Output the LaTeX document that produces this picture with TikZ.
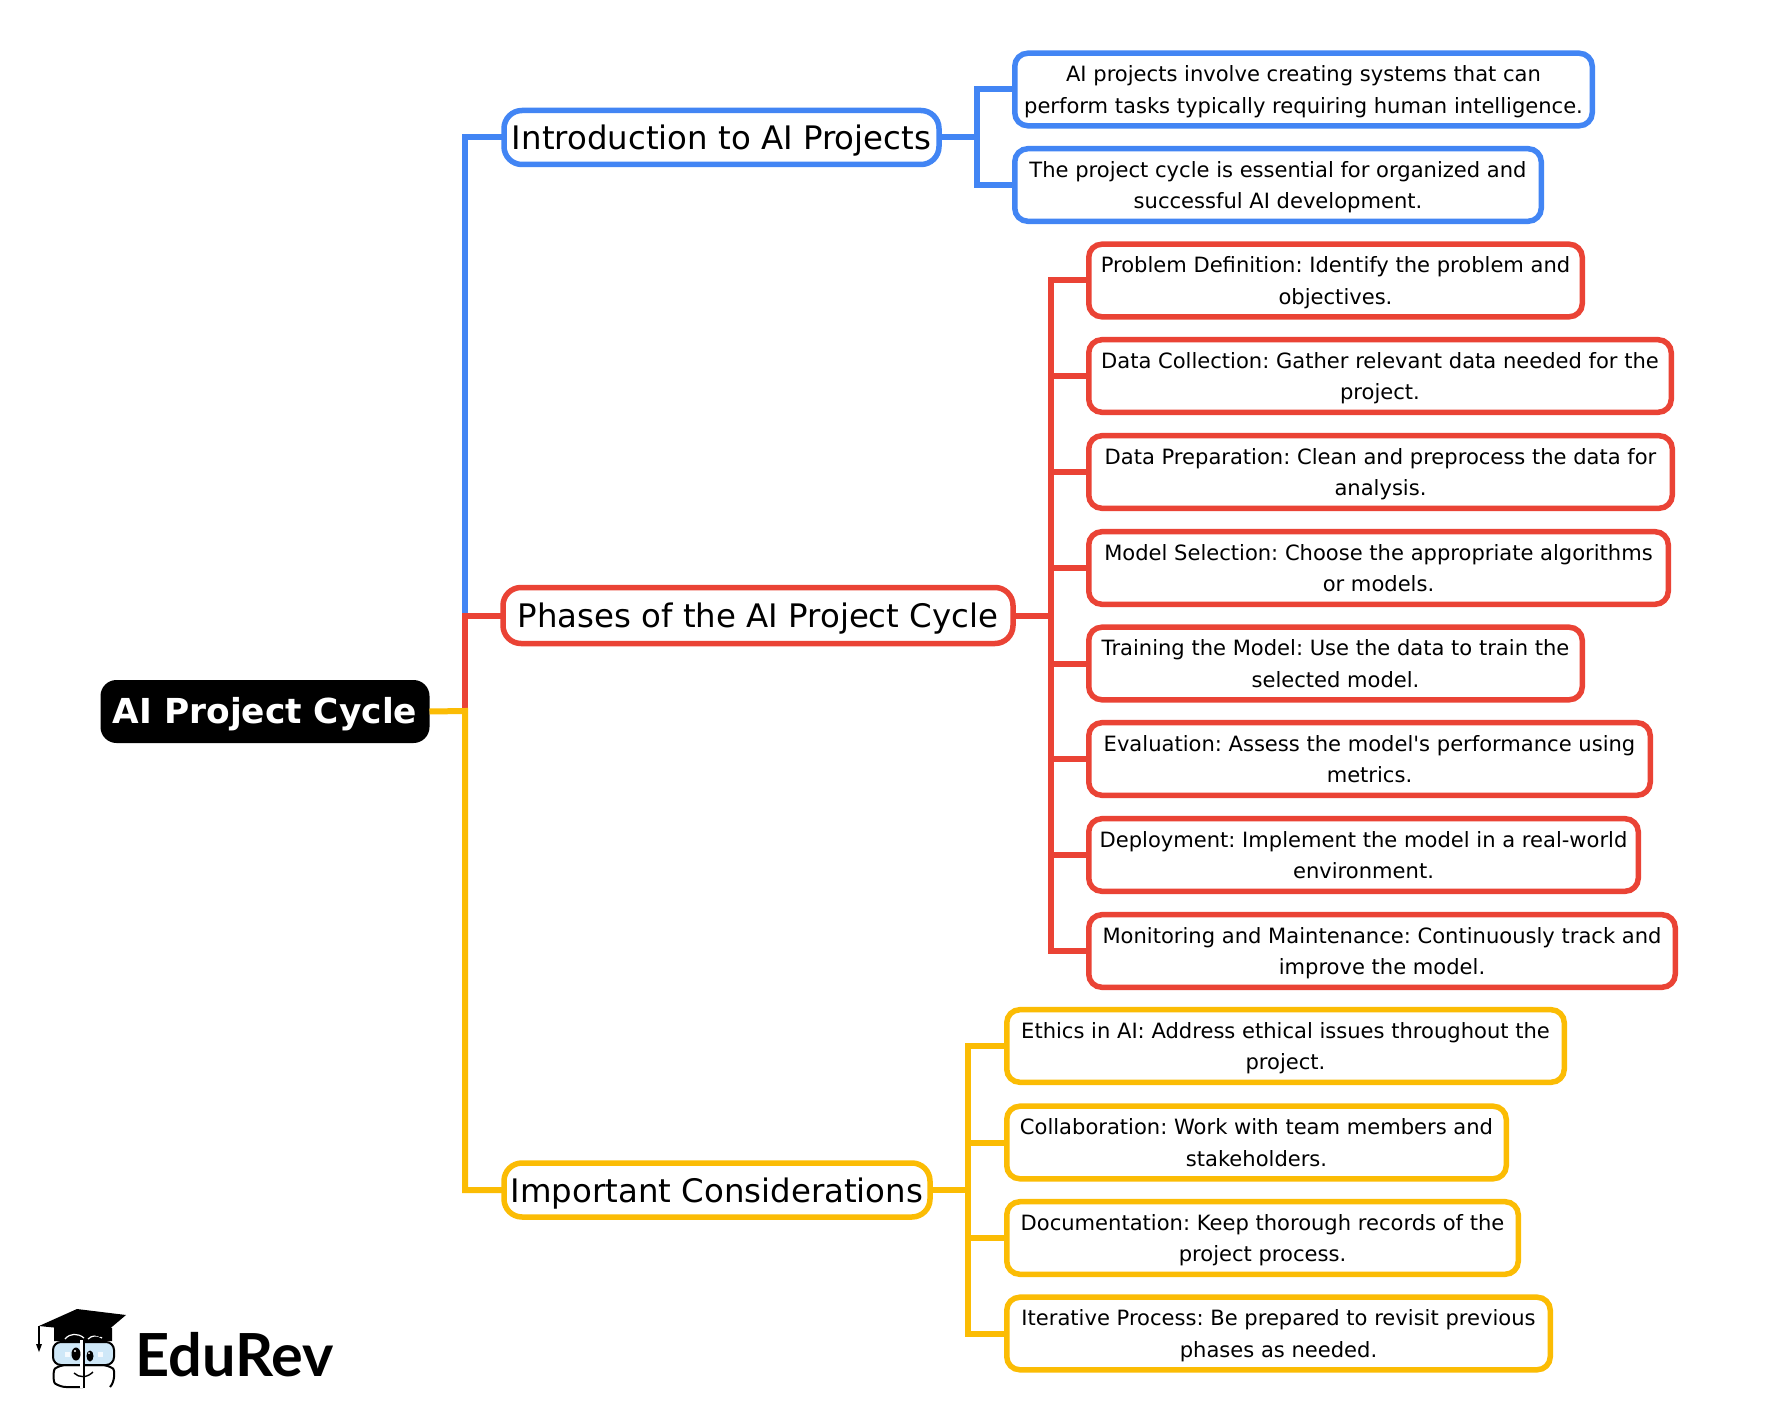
\documentclass[tikz,border=0pt]{standalone}
\usepackage{fontspec}
\setmainfont{DejaVu Sans}
\newfontfamily\logofont{Lato}
\newfontfamily\quotefont{DejaVu Sans}
\definecolor{aiblue}{HTML}{4285F4}
\definecolor{aired}{HTML}{EA4335}
\definecolor{aiyellow}{HTML}{FBBC04}
\definecolor{lenscolor}{HTML}{CFE8F8}
\newcommand{\leaftop}{\rule{0pt}{11pt}}
\newcommand{\leafbottom}{\rule[-3pt]{0pt}{3pt}}

\begin{document}
\begin{tikzpicture}[x=.5pt, y=-.5pt,
	rootbox/.style={fill=black, text=white, rounded corners=8pt, font=\fontsize{17.2}{22}\selectfont\bfseries, outer sep=0pt, execute at begin node={\rule{0pt}{15.9pt}}},
	topicbox/.style={draw=#1, fill=white, line width=2.75pt, rounded corners=9pt, font=\fontsize{16.2}{20}\selectfont, outer sep=0pt, execute at begin node={\rule{0pt}{15.7pt}}},
	leafbox/.style={draw=#1, fill=white, line width=2.75pt, rounded corners=6.5pt, align=center, font=\frenchspacing\fontsize{10.53}{15.6}\selectfont, minimum height=36pt, outer sep=0pt},
	branch/.style={draw=#1, line width=3pt}]

	\useasboundingbox (0,0) rectangle (1778,1423);

	% the root and the three topics
	\node[rootbox, minimum width=164.5pt, minimum height=31.5pt] (root) at (265,711.5) {AI Project Cycle};
	\node[topicbox=aiblue, minimum width=217.5pt, minimum height=27pt] (intro) at (721.5,137.5) {Introduction to AI Projects};
	\node[topicbox=aired, minimum width=255pt, minimum height=28pt] (phases) at (758,615.5) {Phases of the AI Project Cycle};
	\node[topicbox=aiyellow, minimum width=213pt, minimum height=27pt] (important) at (717,1190) {Important Considerations};

	% leaves: name / right edge / y / text
	\foreach \name/\r/\y/\txt in {
		introa/1595/89.5/{AI projects involve creating systems that can\\perform tasks typically requiring human intelligence.},
		introb/1544/185/{The project cycle is essential for organized and\\successful AI development.}}
		\node[leafbox=aiblue, minimum width={(\r-1017.5)*.5pt}] (\name) at ({(1012+\r)/2},\y) {\leaftop\txt\leafbottom};

	\foreach \name/\r/\y/\txt in {
		phasea/1585/280.5/{Problem Definition: Identify the problem and\\objectives.},
		phaseb/1674/376/{Data Collection: Gather relevant data needed for the\\project.},
		phasec/1675/472/{Data Preparation: Clean and preprocess the data for\\analysis.},
		phased/1671/568/{Model Selection: Choose the appropriate algorithms\\or models.},
		phasee/1585/663.5/{Training the Model: Use the data to train the\\selected model.},
		phasef/1653/759/{Evaluation: Assess the model{\quotefont'}s performance using\\metrics.},
		phaseg/1641/855/{Deployment: Implement the model in a real-world\\environment.},
		phaseh/1678/951/{Monitoring and Maintenance: Continuously track and\\improve the model.}}
		\node[leafbox=aired, minimum width={(\r-1091.5)*.5pt}] (\name) at ({(1086+\r)/2},\y) {\leaftop\txt\leafbottom};

	\foreach \name/\r/\y/\txt in {
		considera/1567/1046/{Ethics in AI: Address ethical issues throughout the\\project.},
		considerb/1509/1142.5/{Collaboration: Work with team members and\\stakeholders.},
		considerc/1521/1238/{Documentation: Keep thorough records of the\\project process.},
		considerd/1553/1333.5/{Iterative Process: Be prepared to revisit previous\\phases as needed.}}
		\node[leafbox=aiyellow, minimum width={(\r-1009.5)*.5pt}] (\name) at ({(1004+\r)/2},\y) {\leaftop\txt\leafbottom};

	% the trunk and the three buses
	\coordinate (trunk) at (465,711);
	\coordinate (bluebus) at (977,137);
	\coordinate (redbus) at (1051,615);
	\coordinate (yellowbus) at (968,1190);

	\draw[branch=aiblue] (trunk |- phases.west) -- (trunk |- intro.west) -- (intro.west);
	\draw[branch=aired] (trunk) -- (trunk |- phases.west) -- (phases.west);
	\draw[branch=aiyellow] (root.east) -- (trunk) -- (trunk |- important.west) -- (important.west);

	\draw[branch=aiblue] (intro.east) -- (bluebus |- intro.east);
	\draw[branch=aiblue] (introa.west) -- (bluebus |- introa.west) -- (bluebus |- introb.west) -- (introb.west);

	\draw[branch=aired] (phases.east) -- (redbus |- phases.east);
	\draw[branch=aired] (phasea.west) -- (redbus |- phasea.west) -- (redbus |- phaseh.west) -- (phaseh.west);
	\foreach \name in {phaseb,phasec,phased,phasee,phasef,phaseg}
		\draw[branch=aired] (redbus |- \name.west) -- (\name.west);

	\draw[branch=aiyellow] (important.east) -- (yellowbus |- important.east);
	\draw[branch=aiyellow] (considera.west) -- (yellowbus |- considera.west) -- (yellowbus |- considerd.west) -- (considerd.west);
	\foreach \name in {considerb,considerc}
		\draw[branch=aiyellow] (yellowbus |- \name.west) -- (\name.west);

	% the logo
	\fill (54,1322) -- (54,1341) -- (112,1341) -- (112,1328) -- cycle;
	\draw[white, line width=.6pt] (65,1339) .. controls (70,1333) and (78,1333) .. (84,1338);
	\draw[white, line width=.6pt] (88,1339) .. controls (92,1335) and (98,1335) .. (102,1338);
	\fill (39,1326) -- (77,1309) -- (126,1315) -- (100,1337) -- (78,1330) -- cycle;
	\draw[line width=.7pt] (39,1326) -- (39,1344);
	\fill (36,1344) -- (42,1344) -- (39,1352) -- cycle;
	\draw[line width=1pt, rounded corners=3pt] (83,1365) -- (60,1365) .. controls (53,1370) and (53,1382) .. (60,1387) -- (83,1387) (83,1365) -- (108,1365) .. controls (115,1370) and (115,1382) .. (110,1387);
	\draw[line width=1pt, fill=lenscolor, rounded corners=4pt] (53,1342) rectangle (114,1365);
	\draw[white, line width=1.5pt] (81.5,1340) -- (81.5,1388);
	\draw[line width=1pt] (84,1340) -- (84,1388);
	\fill (76,1354) ellipse [x radius=4.5, y radius=6.5];
	\fill (90,1356) ellipse [x radius=3.5, y radius=5.5];
	\fill[white] (75,1351) circle [radius=1.2];
	\fill[white] (89,1353) circle [radius=1];
	\draw[line width=.7pt] (74,1373) .. controls (79,1378) and (87,1378) .. (93,1372);
	\fill[white!80!lenscolor] (64.5,1352) rectangle (69.5,1357);
	\fill[white!80!lenscolor] (98,1352) rectangle (103,1357);
	\node[anchor=base west, inner sep=0pt, font=\logofont\bfseries\fontsize{29.7}{30}\selectfont] (logotext) at (135,1376) {EduRev};
\end{tikzpicture}
\end{document}
